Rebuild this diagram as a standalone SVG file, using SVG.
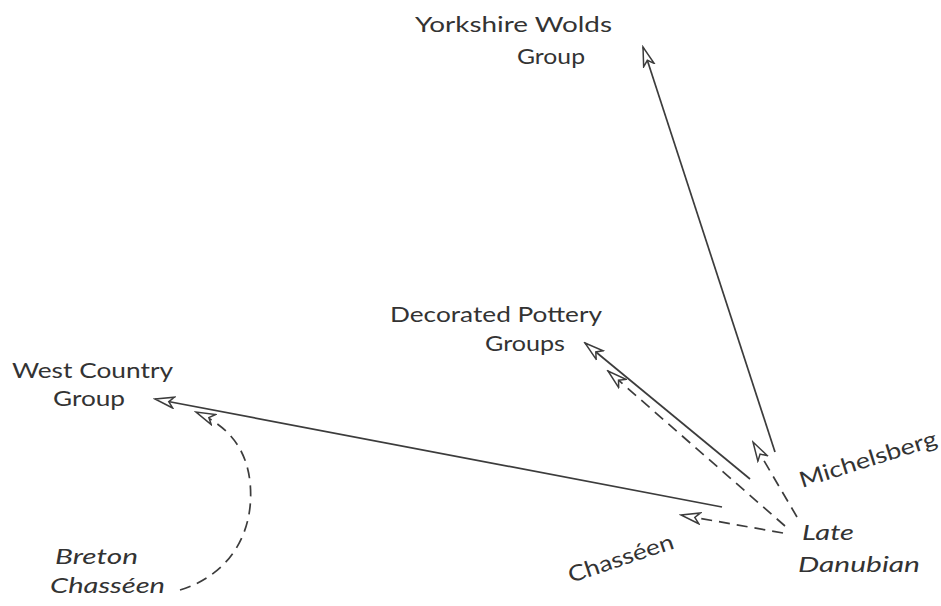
<svg xmlns="http://www.w3.org/2000/svg" width="941" height="606" viewBox="0 0 941 606">
<style>
text{font-family:Lato,"Open Sans","Noto Sans",sans-serif;font-size:22px;fill:#333}
.it{font-style:italic}
.ln{fill:none;stroke:#3c3c3c;stroke-width:1.7}
.ds{stroke-dasharray:11 7}
</style>
<defs>
<marker id="ah" viewBox="-1 -7 22 14" refX="19" refY="0" markerWidth="22" markerHeight="14" markerUnits="userSpaceOnUse" orient="auto">
<path d="M0,-5.5 L19,0 L0,5.5 L5,0 Z" fill="#fff" stroke="#3c3c3c" stroke-width="1.5" stroke-linejoin="miter"/>
</marker>
</defs>
<rect width="941" height="606" fill="#fff"/>
<g id="connectors">
<path class="ln" d="M775,452 L643,47" marker-end="url(#ah)"/>
<path class="ln" d="M750,479 L585,343" marker-end="url(#ah)"/>
<path class="ln ds" d="M785,526 L608,371" marker-end="url(#ah)"/>
<path class="ln ds" d="M797,517 L753,442" marker-end="url(#ah)"/>
<path class="ln" d="M722,507 L155,399" marker-end="url(#ah)"/>
<path class="ln ds" d="M783,533 L681,515" marker-end="url(#ah)"/>
<path class="ln ds" d="M180,590 C232,574 255,530 250,482 C246,446 226,425 196,412" marker-end="url(#ah)"/>
</g>
<g id="yorkshire"><text x="415" y="32" textLength="197" lengthAdjust="spacingAndGlyphs">Yorkshire Wolds</text><text x="517" y="64" textLength="68" lengthAdjust="spacingAndGlyphs">Group</text></g>
<g id="decorated"><text x="390" y="322" textLength="212" lengthAdjust="spacingAndGlyphs">Decorated Pottery</text><text x="485" y="351" textLength="80" lengthAdjust="spacingAndGlyphs">Groups</text></g>
<g id="westcountry"><text x="12" y="378" textLength="161" lengthAdjust="spacingAndGlyphs">West Country</text><text x="53" y="406" textLength="72" lengthAdjust="spacingAndGlyphs">Group</text></g>
<g id="breton"><text class="it" x="55" y="564" textLength="83" lengthAdjust="spacingAndGlyphs">Breton</text><text class="it" x="50" y="593" textLength="115" lengthAdjust="spacingAndGlyphs">Chasséen</text></g>
<g id="latedanubian"><text class="it" x="802" y="540" textLength="52" lengthAdjust="spacingAndGlyphs">Late</text><text class="it" x="798" y="572" textLength="122" lengthAdjust="spacingAndGlyphs">Danubian</text></g>
<g id="michelsberg"><text transform="translate(802,488) rotate(-17.5)" textLength="143" lengthAdjust="spacingAndGlyphs">Michelsberg</text></g>
<g id="chasseen"><text transform="translate(571,583) rotate(-18.5)" textLength="110" lengthAdjust="spacingAndGlyphs">Chasséen</text></g>
</svg>
